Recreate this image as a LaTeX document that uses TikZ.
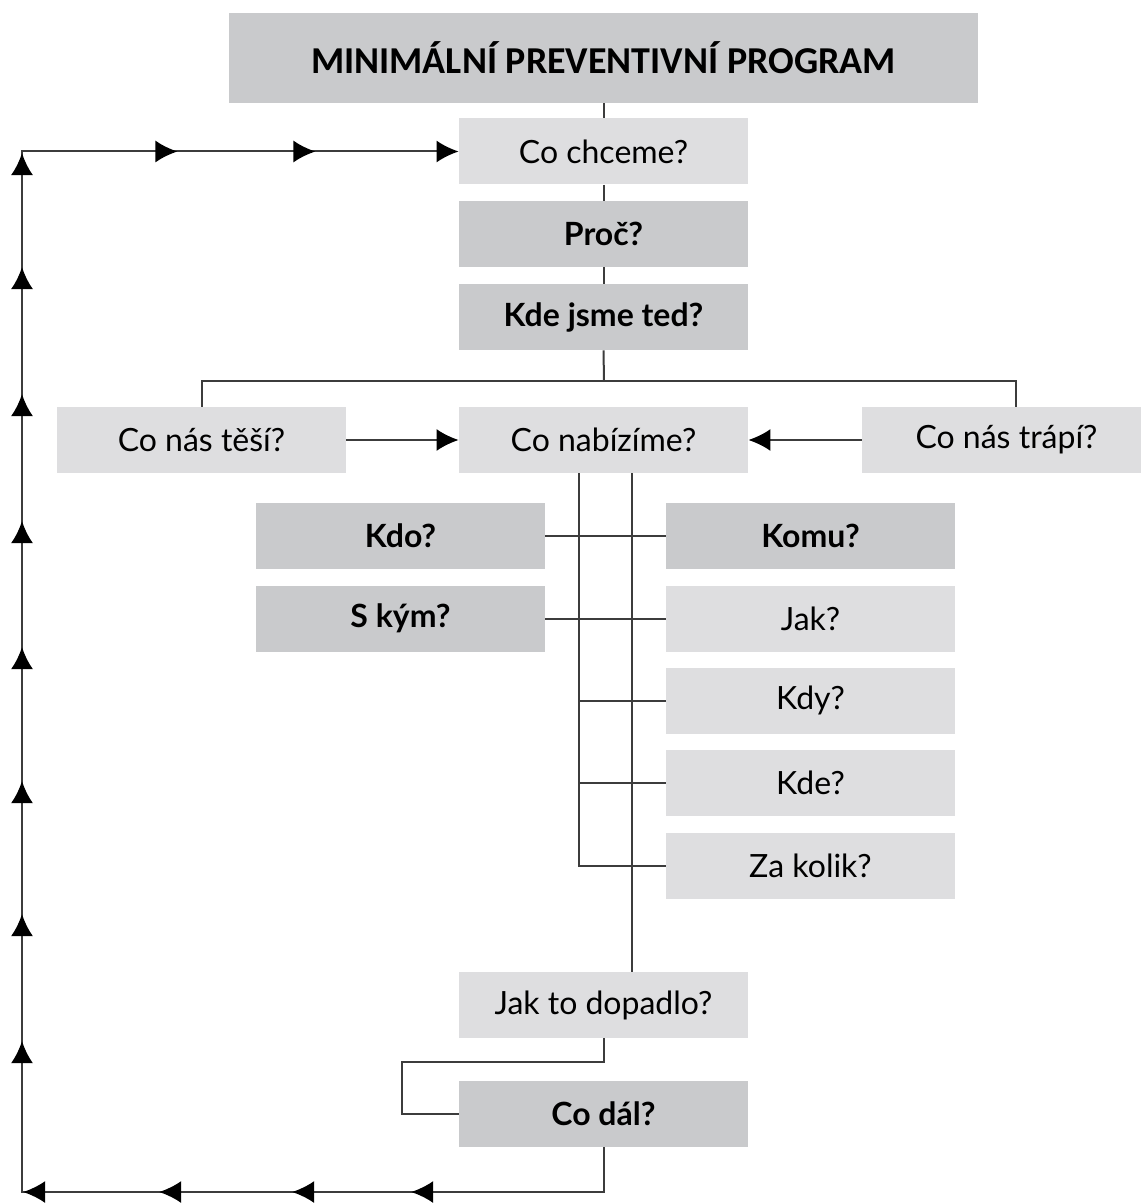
\documentclass[tikz,border=0pt]{standalone}
\usepackage{fontspec}
\setmainfont{Lato}
\newfontfamily\titlefont{Carlito}
\usetikzlibrary{arrows.meta,decorations.markings}
\definecolor{lightgr}{RGB}{222,222,224}
\definecolor{darkgr}{RGB}{201,202,204}
\definecolor{linegr}{RGB}{60,60,60}
\newcommand{\loopTip}{\arrow{Latex[length=11pt,width=11pt,color=black]}}
\tikzset{
  box/.style={rectangle,inner sep=0pt,minimum width=144.5pt,minimum height=33pt,font=\fontsize{16}{19}\selectfont},
  lightbox/.style={box,fill=lightgr},
  darkbox/.style={box,fill=darkgr,font=\fontsize{16}{19}\selectfont\bfseries},
  conn/.style={draw=linegr,line width=1pt},
  tip/.style={-{Latex[length=11pt,width=11pt,color=black]}},
}
\begin{document}
\begin{tikzpicture}[x=0.5pt,y=-0.5pt]
\useasboundingbox[fill=white] (0,0) rectangle (1140,1203);
% nodes
\node[box,fill=darkgr,minimum width=374.5pt,minimum height=45pt,font=\titlefont\fontsize{19}{22}\selectfont\bfseries] (title) at (603.5,58) {MINIMÁLNÍ PREVENTIVNÍ PROGRAM};
\node[lightbox] (chceme) at (603.5,151.5) {Co chceme?};
\node[darkbox] (proc) at (603.5,234) {Proč?};
\node[darkbox] (kde) at (603.5,317) {Kde jsme ted?};
\node[lightbox] (tesi) at (201.5,440) {Co nás těší?};
\node[lightbox] (nabizime) at (603.5,440) {Co nabízíme?};
\node[lightbox] (trapi) at (1006.5,440) {Co nás trápí?};
\node[darkbox] (kdo) at (400.5,536) {Kdo?};
\node[darkbox] (komu) at (810.5,536) {Komu?};
\node[darkbox] (skym) at (400.5,618.5) {S kým?};
\node[lightbox] (jak) at (810.5,618.5) {Jak?};
\node[lightbox] (kdy) at (810.5,700.5) {Kdy?};
\node[lightbox] (kdex) at (810.5,782.5) {Kde?};
\node[lightbox] (zakolik) at (810.5,865.5) {Za kolik?};
\node[lightbox] (dopadlo) at (603.5,1005) {Jak to dopadlo?};
\node[darkbox] (codal) at (603.5,1114) {Co dál?};
% coordinates
\coordinate (branch) at (604,381);
\coordinate (trapitop) at (1016,407);
\coordinate (vl) at (579,473);
\coordinate (vr) at (632,473);
\coordinate (vrb) at (632,972);
\coordinate (c1) at (402,1062);
\coordinate (c2) at (22,1192);
% connectors
\draw[conn] (title) -- (chceme);
\draw[conn] (chceme) -- (proc);
\draw[conn] (proc) -- (kde);
\draw[conn] (kde.south) -- (branch);
\draw[conn] (tesi.north) |- (branch) -| (trapitop);
\draw[conn,tip] (tesi.east) -- (nabizime.west);
\draw[conn,tip] (trapi.west) -- (nabizime.east);
\draw[conn] (vl) |- (zakolik.west);
\draw[conn] (vr) -- (vrb);
\draw[conn] (kdo.east) -- (komu.west);
\draw[conn] (skym.east) -- (jak.west);
\draw[conn] (kdy.west -| vl) -- (kdy.west);
\draw[conn] (kdex.west -| vl) -- (kdex.west);
\draw[conn] (dopadlo.south) |- (c1) |- (codal.west);
\draw[conn,tip,postaction={decorate},decoration={markings,
  mark=at position 118.5pt with {\loopTip},
  mark=at position 178pt with {\loopTip},
  mark=at position 244.5pt with {\loopTip},
  mark=at position 312.5pt with {\loopTip},
  mark=at position 388.5pt with {\loopTip},
  mark=at position 452pt with {\loopTip},
  mark=at position 518.5pt with {\loopTip},
  mark=at position 585.5pt with {\loopTip},
  mark=at position 648.5pt with {\loopTip},
  mark=at position 712pt with {\loopTip},
  mark=at position 775.5pt with {\loopTip},
  mark=at position 832.5pt with {\loopTip},
  mark=at position 911pt with {\loopTip},
  mark=at position 980pt with {\loopTip}}]
  (codal.south) |- (c2) |- (chceme.west);
\end{tikzpicture}
\end{document}
